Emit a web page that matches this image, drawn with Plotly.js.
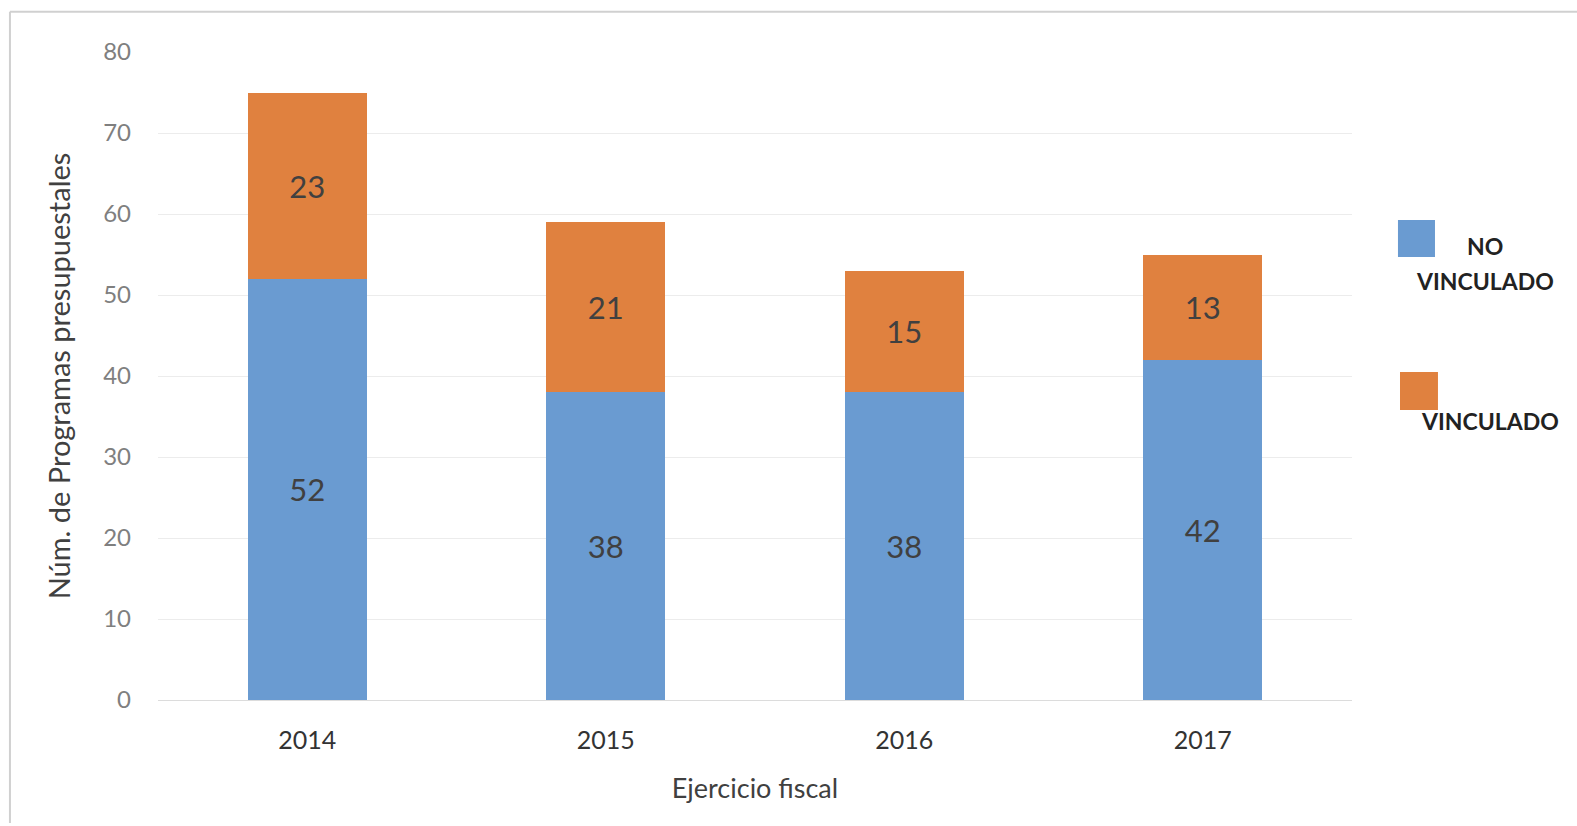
<!DOCTYPE html>
<html>
<head>
<meta charset="utf-8">
<script src="https://cdn.plot.ly/plotly-3.0.1.min.js"></script>
<style>
html,body{margin:0;padding:0;background:#fff;overflow:hidden;}
#chart{width:1577px;height:826px;}
</style>
</head>
<body>
<div id="chart"></div>
<script>
const years = ['2014', '2015', '2016', '2017'];
const noVinculado = [52, 38, 38, 42];
const vinculado = [23, 21, 15, 13];
const yTicks = [0, 10, 20, 30, 40, 50, 60, 70, 80];
const seriesNames = ['NO VINCULADO', 'VINCULADO'];
const seriesColors = ['#6a9bd1', '#e0813f'];

const fontFam = 'Lato, "Open Sans", sans-serif';

const traces = [
  {
    type: 'bar', x: years, y: noVinculado, name: seriesNames[0],
    marker: {color: seriesColors[0]},
    text: noVinculado.map(String), textposition: 'inside', insidetextanchor: 'middle',
    textfont: {family: fontFam, size: 31, color: '#404040'}
  },
  {
    type: 'bar', x: years, y: vinculado, name: seriesNames[1],
    marker: {color: seriesColors[1]},
    text: vinculado.map(String), textposition: 'inside', insidetextanchor: 'middle',
    textfont: {family: fontFam, size: 31, color: '#404040'}
  }
];

const legFont = {family: fontFam, size: 23, color: '#222', weight: 'bold'};

const layout = {
  width: 1577, height: 826,
  margin: {l: 158, r: 225, t: 52, b: 126},
  paper_bgcolor: '#fff', plot_bgcolor: '#fff',
  barmode: 'stack', bargap: 0.6,
  font: {family: fontFam, color: '#404040'},
  showlegend: false,
  xaxis: {
    type: 'category', range: [-0.5, 3.5],
    showline: true, linecolor: '#dcdcdc', linewidth: 1,
    ticks: '', tickfont: {size: 25, color: '#333'}, ticklabelstandoff: 18,
    title: {text: 'Ejercicio fiscal', font: {size: 27, color: '#404040'}, standoff: 26},
    automargin: false
  },
  yaxis: {
    range: [0, 80], tickvals: yTicks, ticktext: yTicks.map(String),
    showgrid: true, gridcolor: '#ececec', zeroline: false,
    tickfont: {size: 24, color: '#7f7f7f'}, ticks: '', ticklabelstandoff: 26,
    title: {text: 'Núm. de Programas presupuestales', font: {size: 29, color: '#404040'}, standoff: 24},
    automargin: false
  },
  shapes: [
    {type: 'line', xref: 'paper', yref: 'paper', x0: -0.124, x1: 1.2, y0: 1.062, y1: 1.062, line: {color: '#d0d0d0', width: 2}},
    {type: 'line', xref: 'paper', yref: 'paper', x0: -0.124, x1: -0.124, y0: 1.062, y1: -0.19, line: {color: '#d0d0d0', width: 2}},
    {type: 'rect', xref: 'paper', yref: 'paper', x0: 1.0385, x1: 1.0695, y0: 0.6836, y1: 0.7407, fillcolor: seriesColors[0], line: {width: 0}},
    {type: 'rect', xref: 'paper', yref: 'paper', x0: 1.0402, x1: 1.072, y0: 0.4475, y1: 0.506, fillcolor: seriesColors[1], line: {width: 0}}
  ],
  annotations: [
    {xref: 'paper', yref: 'paper', x: 1.111, y: 0.7006, text: 'NO', showarrow: false, font: legFont, xanchor: 'center', yanchor: 'middle'},
    {xref: 'paper', yref: 'paper', x: 1.111, y: 0.6466, text: 'VINCULADO', showarrow: false, font: legFont, xanchor: 'center', yanchor: 'middle'},
    {xref: 'paper', yref: 'paper', x: 1.1156, y: 0.4306, text: 'VINCULADO', showarrow: false, font: legFont, xanchor: 'center', yanchor: 'middle'}
  ]
};

Plotly.newPlot('chart', traces, layout, {displayModeBar: false, staticPlot: true});
</script>
</body>
</html>
